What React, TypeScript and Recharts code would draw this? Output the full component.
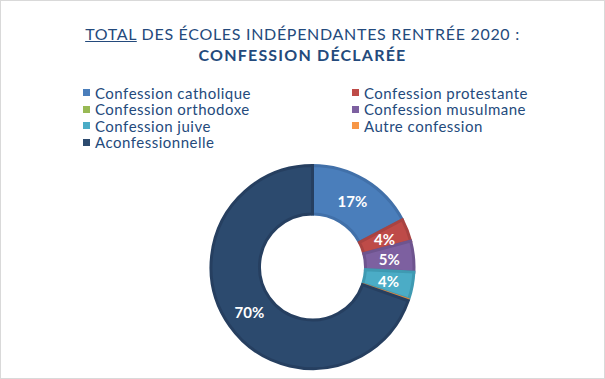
import { Cell, Pie, PieChart } from "recharts";

const categories = [
  "Confession catholique",
  "Confession protestante",
  "Confession orthodoxe",
  "Confession musulmane",
  "Confession juive",
  "Autre confession",
  "Aconfessionnelle",
];
const shares = [17.3, 3.6, 0, 4.9, 4.3, 0.3, 69.6];

const FILLS = ["#4a7ebb", "#be4b48", "#98b954", "#7d60a0", "#4bacc6", "#f79646", "#2c4a6e"];
const EDGES = ["#4170a9", "#a94341", "#86a44a", "#6e548e", "#3f9ab2", "#e3843a", "#263f60"];

const FONT = "Lato, 'Open Sans', sans-serif";
const BLUE = "#244a7c";

const data = categories.map((name, i) => ({ name, value: shares[i] }));

const RAD = Math.PI / 180;

function PctLabel(props: any) {
  const { cx, cy, midAngle, innerRadius, outerRadius, percent } = props;
  if (percent < 0.01) return null;
  const r = (innerRadius + outerRadius) / 2;
  const x = cx + r * Math.cos(-midAngle * RAD);
  const y = cy + r * Math.sin(-midAngle * RAD);
  return (
    <text
      x={x}
      y={y}
      fill="#fff"
      fontFamily={FONT}
      fontWeight={700}
      fontSize={15}
      textAnchor="middle"
      dominantBaseline="central"
    >
      {Math.round(percent * 100)}%
    </text>
  );
}

export default function App() {
  const colLeft = [83, 352];
  return (
    <div
      style={{
        position: "fixed",
        top: 0,
        left: 0,
        width: 605,
        height: 379,
        background: "#fff",
        fontFamily: FONT,
      }}
    >
      <PieChart width={605} height={379} margin={{ top: 0, right: 0, bottom: 0, left: 0 }}>
        <Pie
          data={data}
          dataKey="value"
          nameKey="name"
          cx={312.5}
          cy={267}
          innerRadius={53}
          outerRadius={101.5}
          startAngle={90}
          endAngle={-270}
          label={PctLabel}
          labelLine={false}
          isAnimationActive={false}
        >
          {data.map((d, i) => (
            <Cell key={d.name} fill={FILLS[i]} stroke={EDGES[i]} strokeWidth={i === 5 ? 1.5 : 3} />
          ))}
        </Pie>
      </PieChart>

      <div
        style={{
          position: "absolute",
          top: 23,
          left: 0,
          width: 605,
          textAlign: "center",
          color: BLUE,
          fontSize: 16,
          letterSpacing: 0.7,
          lineHeight: "21px",
        }}
      >
        <div>
          <span style={{ textDecoration: "underline" }}>TOTAL</span> DES ÉCOLES INDÉPENDANTES RENTRÉE 2020 :
        </div>
        <div style={{ fontWeight: 700, letterSpacing: 1.2 }}>CONFESSION DÉCLARÉE</div>
      </div>

      {categories.map((name, i) => {
        const col = i % 2;
        const row = Math.floor(i / 2);
        return (
          <div
            key={name}
            style={{
              position: "absolute",
              left: colLeft[col],
              top: 84 + row * 16.5,
              height: 17,
              display: "flex",
              alignItems: "center",
              fontSize: 15,
              color: BLUE,
              letterSpacing: 0.5,
              whiteSpace: "nowrap",
            }}
          >
            <span
              style={{ width: 7, height: 7, background: FILLS[i], marginRight: 5, display: "inline-block" }}
            />
            {name}
          </div>
        );
      })}

      <div
        style={{
          position: "absolute",
          inset: 0,
          border: "1px solid #d9d9d9",
          pointerEvents: "none",
        }}
      />
    </div>
  );
}
